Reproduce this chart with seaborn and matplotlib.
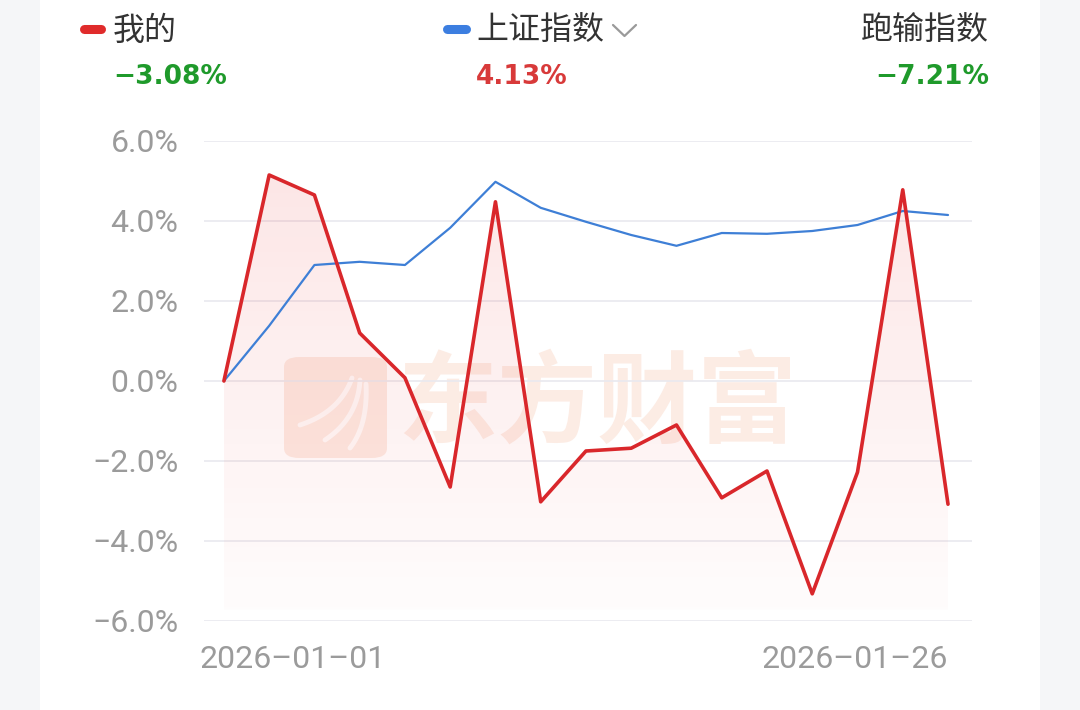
import numpy as np
import pandas as pd
import matplotlib
matplotlib.use("Agg")
import matplotlib.pyplot as plt
from matplotlib.patches import FancyBboxPatch, Rectangle, Polygon
from matplotlib.lines import Line2D
import seaborn as sns

# ---- data ----
dates = ["2026-01-01", "2026-01-05", "2026-01-06", "2026-01-07", "2026-01-08",
         "2026-01-09", "2026-01-12", "2026-01-13", "2026-01-14", "2026-01-15",
         "2026-01-16", "2026-01-19", "2026-01-20", "2026-01-21", "2026-01-22",
         "2026-01-23", "2026-01-26"]
mine = [0.0, 5.15, 4.65, 1.2, 0.08, -2.65, 4.48, -3.02, -1.75, -1.68,
        -1.1, -2.92, -2.25, -5.32, -2.28, 4.78, -3.08]
sse_index = [0.0, 1.38, 2.9, 2.98, 2.9, 3.83, 4.98, 4.33, 3.98, 3.65,
             3.38, 3.7, 3.68, 3.75, 3.9, 4.25, 4.15]
legend_names = ["我的", "上证指数", "跑输指数"]
legend_values = ["-3.08%", "4.13%", "-7.21%"]
y_ticks = [-6, -4, -2, 0, 2, 4, 6]

RED = "#d9272b"
BLUE = "#3e7fd6"
GREEN = "#1f9a2b"
VAL_RED = "#d83a3a"
GRAY = "#9b9b9b"

sns.set_theme(style="white")
plt.rcParams["font.family"] = ["Roboto", "Noto Sans CJK SC", "DejaVu Sans"]

df = pd.DataFrame({"pos": np.arange(len(dates)), "date": dates,
                   "mine": mine, "sse": sse_index})

fig = plt.figure(figsize=(10.8, 7.1), dpi=100, facecolor="#f5f6f8")
W, H = 1080, 710
fig.patches.append(Rectangle((40 / W, 0), 1000 / W, 1, transform=fig.transFigure,
                             facecolor="white", edgecolor="none", zorder=-5))

ax = fig.add_axes([204 / W, 1 - 621 / H, 768 / W, 480 / H])
ax.set_facecolor("none")
for s in ax.spines.values():
    s.set_visible(False)

# watermark (logo block + brand name)
wm_color = "#fbe2d6"
fig.patches.append(FancyBboxPatch((284 / W, 1 - 458 / H), 103 / W, 101 / H,
                                  boxstyle="round,pad=0,rounding_size=0.014",
                                  transform=fig.transFigure, facecolor=wm_color,
                                  edgecolor="none", alpha=0.7, zorder=-4))
for (x0, y0, x1, y1, cx, cy) in [(300, 425, 352, 378, 340, 412),
                                 (325, 440, 360, 380, 358, 418),
                                 (350, 448, 366, 384, 368, 425)]:
    t = np.linspace(0, 1, 30)
    bx = (1 - t) ** 2 * x0 + 2 * (1 - t) * t * cx + t ** 2 * x1
    by = (1 - t) ** 2 * y0 + 2 * (1 - t) * t * cy + t ** 2 * y1
    fig.lines.append(Line2D(bx / W, 1 - by / H, transform=fig.transFigure,
                            color="white", alpha=0.8, linewidth=3.5,
                            solid_capstyle="round", zorder=-3))
fig.text(597 / W, 1 - 405 / H, "东方财富", fontsize=72, fontweight="bold",
         color=wm_color, alpha=0.65, ha="center", va="center",
         family=["Noto Sans CJK SC"], zorder=-4)

ax.set_yticks(y_ticks)
ax.set_yticklabels([f"{v:.1f}%".replace("-", "\u2212") for v in y_ticks],
                   color=GRAY, fontsize=23)
ax.tick_params(axis="y", length=0, pad=18.5)
ax.set_xticks([])
ax.grid(True, axis="y", color="#e9e9ef", linewidth=1.2)
ax.set_axisbelow(True)

# gradient fill under the red line
base = -5.72
xs = df["pos"].to_numpy()
verts = [(xs[0], base)] + list(zip(xs, df["mine"])) + [(xs[-1], base)]
poly = Polygon(verts, closed=True, facecolor="none", edgecolor="none")
ax.add_patch(poly)
grad = np.linspace(0.13, 0.015, 256).reshape(-1, 1)
rgba = np.zeros((256, 1, 4))
rgba[..., 0] = 0.93
rgba[..., 1] = 0.25
rgba[..., 2] = 0.25
rgba[..., 3] = grad
img = ax.imshow(rgba, extent=[xs[0], xs[-1], base, max(mine)], aspect="auto",
                origin="upper", zorder=2)
img.set_clip_path(poly)

sns.lineplot(data=df, x="pos", y="sse", ax=ax, color=BLUE, linewidth=1.6,
             zorder=4)
sns.lineplot(data=df, x="pos", y="mine", ax=ax, color=RED, linewidth=2.6,
             zorder=5)
ax.set_xlabel("")
ax.set_ylabel("")
ax.set_xlim(-0.44, len(dates) - 1 + 0.53)
ax.set_ylim(-6, 6)

# x labels: first and last date only
ax.annotate(dates[0].replace("-", "\u2013"), xy=(0, 0),
            xycoords=("data", "axes fraction"), xytext=(-24, -24),
            textcoords="offset pixels", ha="left", va="top",
            color=GRAY, fontsize=23)
ax.annotate(dates[-1].replace("-", "\u2013"), xy=(len(dates) - 1, 0),
            xycoords=("data", "axes fraction"), xytext=(0, -24),
            textcoords="offset pixels", ha="right", va="top",
            color=GRAY, fontsize=23)

# header legend
def dash(x0, x1, y, color):
    fig.lines.append(Line2D([x0 / W, x1 / W], [1 - y / H, 1 - y / H],
                            transform=fig.transFigure, color=color,
                            linewidth=6.5, solid_capstyle="round"))

dash(84, 101, 29, "#e02b2b")
dash(447, 466, 29, "#3c7ee0")
name_kw = dict(fontsize=23, color="#333333", va="center", fontweight="medium")
fig.text(113 / W, 1 - 31 / H, legend_names[0], ha="left", **name_kw)
fig.text(476 / W, 1 - 31 / H, legend_names[1], ha="left", **name_kw)
fig.text(989 / W, 1 - 31 / H, legend_names[2], ha="right", **name_kw)
fig.lines.append(Line2D([613 / W, 624.5 / W, 636 / W],
                        [1 - 25 / H, 1 - 36 / H, 1 - 25 / H],
                        transform=fig.transFigure, color="#9a9a9a",
                        linewidth=1.6))
val_kw = dict(fontsize=19, va="center", fontweight="bold",
              family=["DejaVu Sans"])
fig.text(113 / W, 1 - 77 / H, legend_values[0].replace("-", "\u2212"),
         color=GREEN, ha="left", **val_kw)
fig.text(476 / W, 1 - 77 / H, legend_values[1], color=VAL_RED, ha="left", **val_kw)
fig.text(989 / W, 1 - 77 / H, legend_values[2].replace("-", "\u2212"),
         color=GREEN, ha="right", **val_kw)

fig.savefig("out.png", dpi=100, facecolor=fig.get_facecolor())
